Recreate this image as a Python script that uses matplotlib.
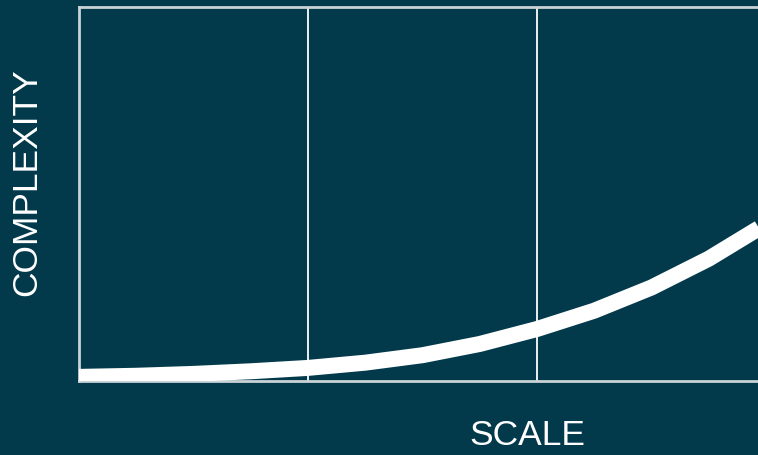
import matplotlib
matplotlib.use("Agg")
import matplotlib.pyplot as plt

# Data
scale = [0, 0.25, 0.5, 0.75, 1.0, 1.25, 1.5, 1.75, 2.0, 2.25, 2.5, 2.75, 3.0]
complexity = [0.011, 0.014, 0.019, 0.026, 0.035, 0.049, 0.069, 0.099, 0.139, 0.188, 0.25, 0.327, 0.42]
grid_x = [1, 2]

bg = "#023a4b"
W, H = 758, 456
fig = plt.figure(figsize=(W / 100, H / 100), dpi=100, facecolor=bg)
ax = fig.add_axes([79 / W, (H - 382) / H, 687 / W, 374 / H], facecolor=bg)
ax.set_xlim(0, 3)
ax.set_ylim(0, 1)

for gx in grid_x:
    ax.axvline(gx, color="white", lw=1.3, zorder=1)

ax.plot(scale, complexity, color="white", lw=11.5, solid_capstyle="butt",
        solid_joinstyle="round", zorder=3)

for s in ["left", "top", "bottom"]:
    ax.spines[s].set_color("#c9d3d7")
    ax.spines[s].set_linewidth(2)
ax.spines["right"].set_visible(False)
ax.set_xticks([])
ax.set_yticks([])

fig.text(527 / W, 1 - 436 / H, "SCALE", color="white", fontsize=25.5,
         family="Liberation Sans", ha="center", va="center")
fig.text(27 / W, 1 - 182 / H, "COMPLEXITY", color="white", fontsize=25.5,
         family="Liberation Sans", ha="center", va="center", rotation=90)

fig.savefig("out.png", dpi=100, facecolor=bg)
